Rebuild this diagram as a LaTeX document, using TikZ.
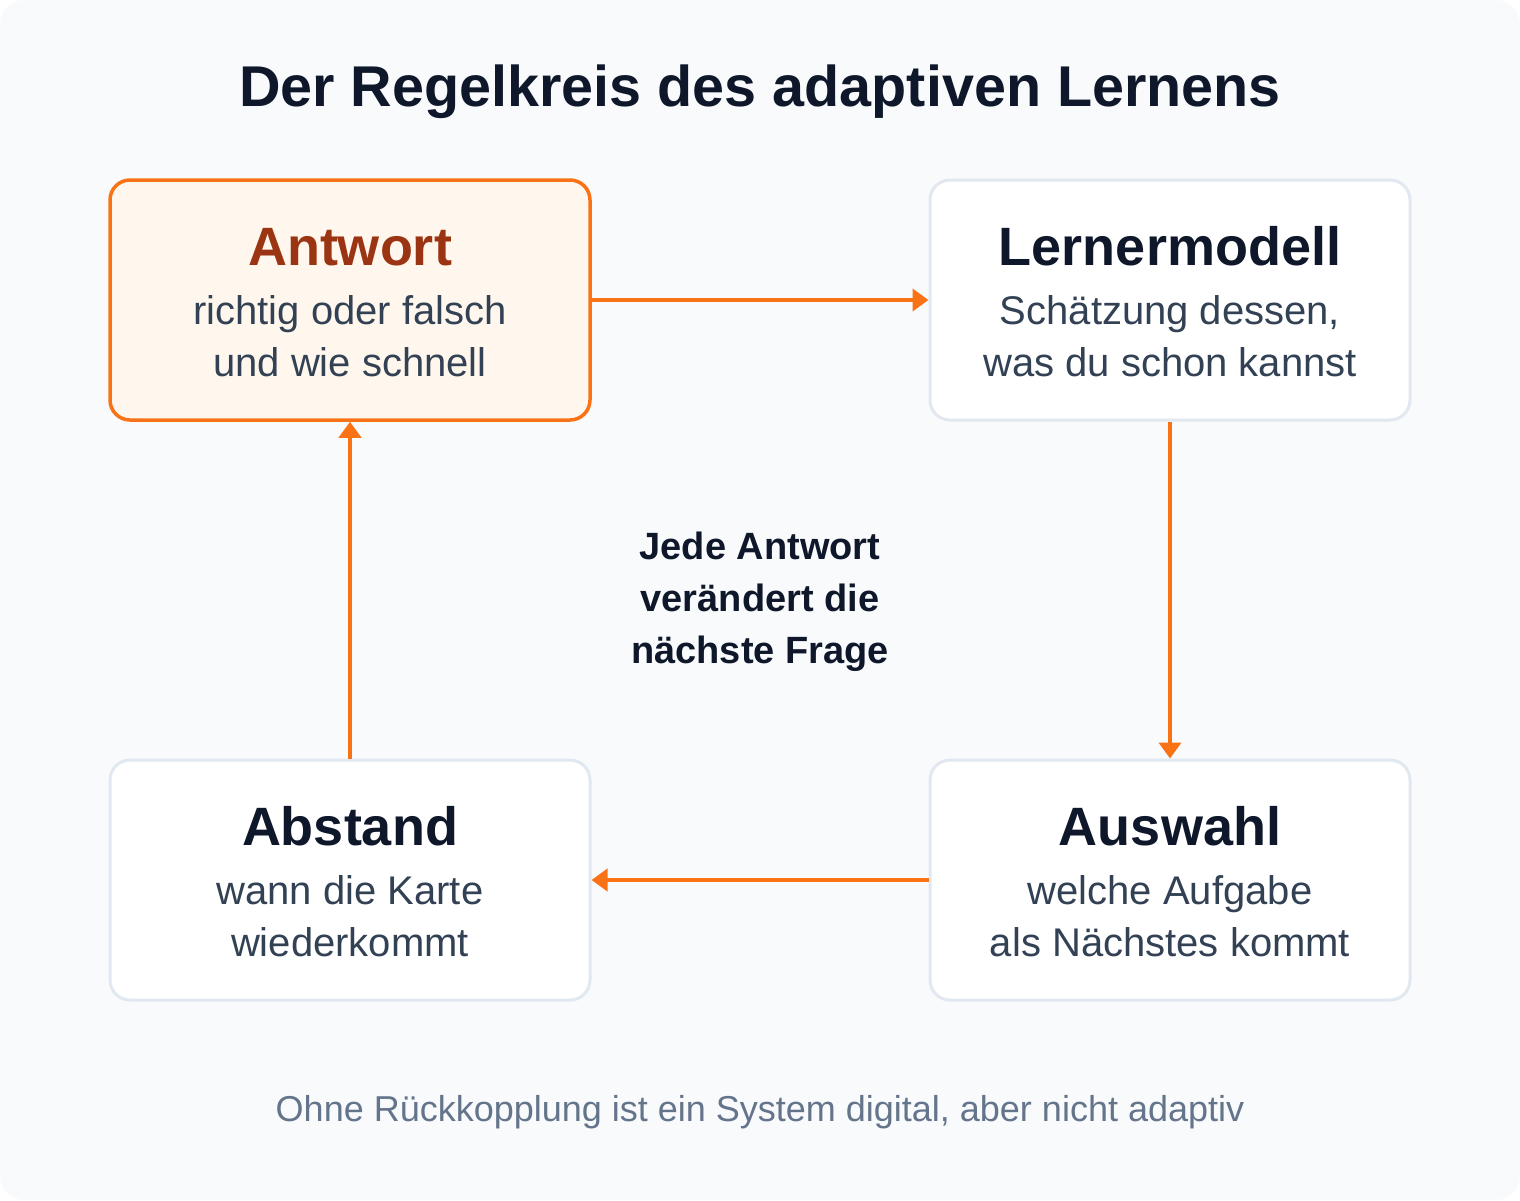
\documentclass[tikz,border=0pt]{standalone}
\usepackage{fontspec}
\setmainfont{Liberation Sans}
\usepackage{tikz}
\usetikzlibrary{arrows.meta,positioning,calc}
\definecolor{hinter}{HTML}{F8FAFC}
\definecolor{orangeton}{HTML}{F97316}
\definecolor{orangehell}{HTML}{FFF7ED}
\definecolor{rostbraun}{HTML}{9A3412}
\definecolor{rand}{HTML}{E2E8F0}
\definecolor{dunkel}{HTML}{0F172A}
\definecolor{schiefer}{HTML}{334155}
\definecolor{grau}{HTML}{64748B}

\begin{document}
\begin{tikzpicture}[x=1pt,y=-1pt]
\tikzstyle{pfeil}=[-{Triangle[length=16pt,width=22pt]},line width=4.5pt,draw=orangeton]
\tikzstyle{kasten}=[draw=rand,fill=white,line width=3pt,rounded corners=20pt,minimum width=480pt,minimum height=240pt,inner sep=0pt]
\tikzstyle{aktiv}=[kasten,draw=orangeton,fill=orangehell,line width=3.5pt]
\tikzstyle{titel}=[anchor=base,font=\bfseries\fontsize{54}{60}\selectfont,text=dunkel]
\tikzstyle{untertext}=[anchor=base,align=center,font=\fontsize{40}{52}\selectfont,text=schiefer]
\def\SpalteA{350}
\def\SpalteB{1170}
\def\ZeileA{300}
\def\ZeileB{880}
% Hintergrund
\fill[hinter,rounded corners=24pt] (0,0) rectangle (1520,1200);
\useasboundingbox (0,0) rectangle (1520,1200);
\node[anchor=base,font=\bfseries\fontsize{57.5}{62}\selectfont,text=dunkel] (Ueberschrift) at (760,106) {Der Regelkreis des adaptiven Lernens};
% Kaesten
\node[aktiv] (Antwort) at (\SpalteA,\ZeileA) {};
\node[kasten] (Modell) at (\SpalteB,\ZeileA) {};
\node[kasten] (Auswahl) at (\SpalteB,\ZeileB) {};
\node[kasten] (Abstand) at (\SpalteA,\ZeileB) {};
\node[titel,text=rostbraun] (AntwortT) at (\SpalteA,\ZeileA-35) {Antwort};
\node[untertext] (AntwortU) at (\SpalteA,\ZeileA+76) {richtig oder falsch\\und wie schnell};
\node[titel] (ModellT) at (\SpalteB,\ZeileA-35) {Lernermodell};
\node[untertext] (ModellU) at (\SpalteB,\ZeileA+76) {Schätzung dessen,\\was du schon kannst};
\node[titel] (AuswahlT) at (\SpalteB,\ZeileB-35) {Auswahl};
\node[untertext] (AuswahlU) at (\SpalteB,\ZeileB+76) {welche Aufgabe\\als Nächstes kommt};
\node[titel] (AbstandT) at (\SpalteA,\ZeileB-35) {Abstand};
\node[untertext] (AbstandU) at (\SpalteA,\ZeileB+76) {wann die Karte\\wiederkommt};
% Mitte und Fusszeile
\node[anchor=base,align=center,font=\bfseries\fontsize{38}{52}\selectfont,text=dunkel] (Mitte) at (760,663) {Jede Antwort\\verändert die\\nächste Frage};
\node[anchor=base,font=\fontsize{36}{40}\selectfont,text=grau] (Fuss) at (760,1121) {Ohne Rückkopplung ist ein System digital, aber nicht adaptiv};
% Pfeile
\draw[pfeil] (Antwort.east)--(Modell.west);
\draw[pfeil] (Modell.south)--(Auswahl.north);
\draw[pfeil] (Auswahl.west)--(Abstand.east);
\draw[pfeil] (Abstand.north)--(Antwort.south);
\end{tikzpicture}
\end{document}
